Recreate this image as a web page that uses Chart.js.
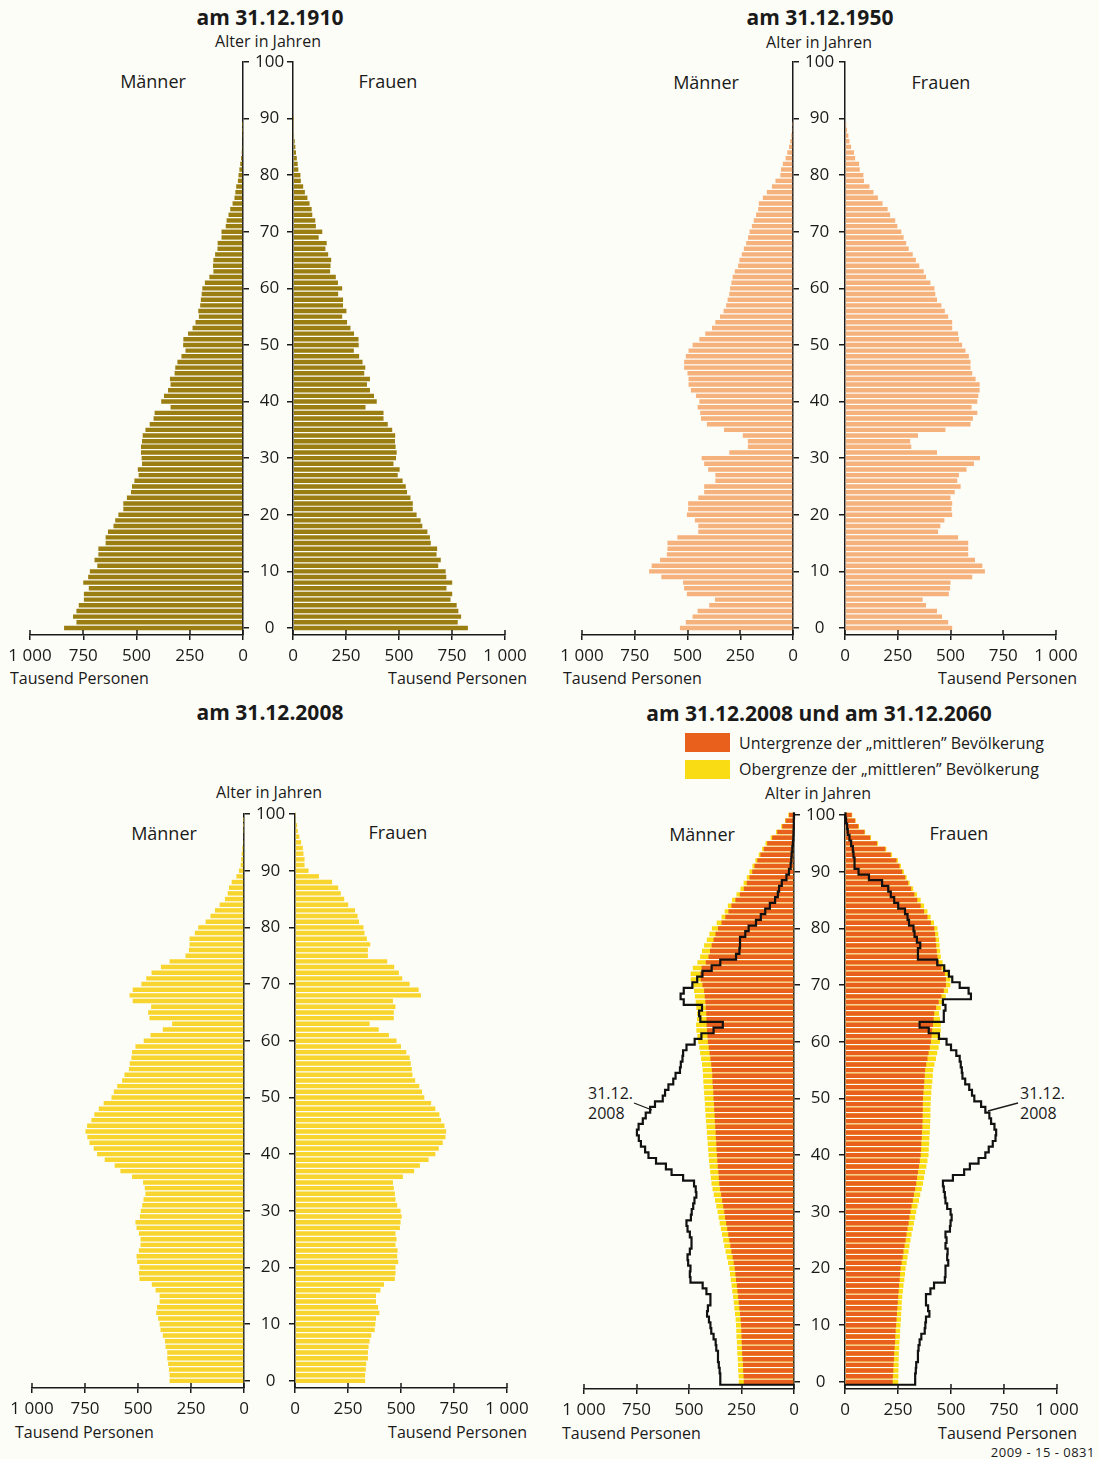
<!DOCTYPE html>
<html lang="de">
<head>
<meta charset="utf-8">
<title>Bevölkerungspyramiden 1910, 1950, 2008, 2060</title>
<script src="https://cdn.jsdelivr.net/npm/chart.js@4.4.1/dist/chart.umd.min.js"></script>
<style>
  body { margin: 0; background: #fdfdf8; }
  #page { position: relative; width: 1099px; height: 1459px; overflow: hidden;
          font-family: 'Open Sans', sans-serif; color: #1a1a1a; }
  canvas { position: absolute; }
  .t { position: absolute; white-space: nowrap; line-height: 1; }
  .m { transform: translate(-50%, -50%); }
  .l { transform: translate(0, -50%); }
  .r { transform: translate(-100%, -50%); }
  .title { font-weight: 700; font-size: 21px; }
  .sm { font-size: 16px; }
  .sex { font-size: 18px; }
  .key { position: absolute; width: 45px; height: 19px; }
  .foot { font-size: 13px; letter-spacing: 0.5px; }
</style>
</head>
<body>
<div id="page">
  <!-- 1910 -->
  <div class="t m title" style="left:270px;top:17px">am 31.12.1910</div>
  <div class="t m sm" style="left:268px;top:41px">Alter in Jahren</div>
  <div class="t m sex" style="left:153px;top:81px">Männer</div>
  <div class="t m sex" style="left:388px;top:81px">Frauen</div>
  <div class="t l sm" style="left:10px;top:678px">Tausend Personen</div>
  <div class="t r sm" style="left:527px;top:678px">Tausend Personen</div>

  <!-- 1950 -->
  <div class="t m title" style="left:820px;top:17px">am 31.12.1950</div>
  <div class="t m sm" style="left:819px;top:42px">Alter in Jahren</div>
  <div class="t m sex" style="left:706px;top:82px">Männer</div>
  <div class="t m sex" style="left:941px;top:82px">Frauen</div>
  <div class="t l sm" style="left:563px;top:678px">Tausend Personen</div>
  <div class="t r sm" style="left:1077px;top:678px">Tausend Personen</div>

  <!-- 2008 -->
  <div class="t m title" style="left:270px;top:712px">am 31.12.2008</div>
  <div class="t m sm" style="left:269px;top:792px">Alter in Jahren</div>
  <div class="t m sex" style="left:164px;top:833px">Männer</div>
  <div class="t m sex" style="left:398px;top:832px">Frauen</div>
  <div class="t l sm" style="left:15px;top:1432px">Tausend Personen</div>
  <div class="t r sm" style="left:527px;top:1432px">Tausend Personen</div>

  <!-- 2008 / 2060 -->
  <div class="t m title" style="left:819px;top:713px">am 31.12.2008 und am 31.12.2060</div>
  <div class="key" style="left:685px;top:733px;background:#e8601c"></div>
  <div class="key" style="left:685px;top:760px;background:#f9dc14"></div>
  <div class="t l sm" style="left:739px;top:743px">Untergrenze der „mittleren” Bevölkerung</div>
  <div class="t l sm" style="left:739px;top:769px">Obergrenze der „mittleren” Bevölkerung</div>
  <div class="t m sm" style="left:818px;top:793px">Alter in Jahren</div>
  <div class="t m sex" style="left:702px;top:834px">Männer</div>
  <div class="t m sex" style="left:959px;top:833px">Frauen</div>
  <div class="t l sm" style="left:588px;top:1093px">31.12.</div>
  <div class="t l sm" style="left:588px;top:1113px">2008</div>
  <div class="t l sm" style="left:1020px;top:1093px">31.12.</div>
  <div class="t l sm" style="left:1020px;top:1113px">2008</div>
  <div class="t l sm" style="left:562px;top:1433px">Tausend Personen</div>
  <div class="t r sm" style="left:1077px;top:1433px">Tausend Personen</div>
  <div class="t r foot" style="left:1095px;top:1452px">2009 - 15 - 0831</div>

  <svg width="1099" height="1459" style="position:absolute;left:0;top:0;pointer-events:none">
    <line x1="634" y1="1103" x2="652" y2="1110" stroke="#1a1a1a" stroke-width="1.3"/>
    <line x1="1018" y1="1103" x2="988" y2="1111" stroke="#1a1a1a" stroke-width="1.3"/>
  </svg>
</div>

<script>
const ages = [0,1,2,3,4,5,6,7,8,9,10,11,12,13,14,15,16,17,18,19,20,21,22,23,24,25,26,27,28,29,30,
  31,32,33,34,35,36,37,38,39,40,41,42,43,44,45,46,47,48,49,50,51,52,53,54,55,56,57,58,59,60,
  61,62,63,64,65,66,67,68,69,70,71,72,73,74,75,76,77,78,79,80,81,82,83,84,85,86,87,88,89,90,
  91,92,93,94,95,96,97,98,99,100];
const ageTicks = [0, 10, 20, 30, 40, 50, 60, 70, 80, 90, 100];
const personTicks = [0, 250, 500, 750, 1000];

// Tausend Personen je Altersjahr (0 ... 100)
const maenner1910 = [840,782,798,782,771,747,747,724,750,727,719,684,697,679,679,645,645,634,608,600,
  585,562,562,545,526,521,510,490,494,474,476,479,479,474,471,458,438,420,415,340,
  384,371,352,340,343,321,318,308,289,270,281,280,258,237,223,207,210,201,198,194,
  191,179,158,139,141,139,131,120,119,101,101,81,77,68,60,49,40,36,32,24,
  21,17,13,9,6,5,3,2,1,1,0,0,0,0,0,0,0,0,0,0,0];
const frauen1910 = [825,777,793,780,772,743,751,724,751,723,720,685,697,677,680,650,646,634,610,602,
  583,565,565,554,538,532,517,494,503,474,486,489,484,481,482,468,447,427,427,342,
  395,382,363,349,363,336,341,328,312,287,310,309,288,271,255,232,252,236,236,213,
  232,212,202,175,177,180,166,153,159,121,138,108,105,91,88,78,68,56,48,37,
  35,25,22,18,14,11,8,5,3,2,1,0,0,0,0,0,0,0,0,0,0];

const maenner1950 = [536,508,476,452,397,370,503,516,521,624,682,670,630,598,595,595,548,449,449,465,
  503,497,497,449,421,421,368,368,402,421,433,302,214,214,238,327,408,436,440,452,
  444,460,484,495,495,500,516,516,508,495,476,444,416,384,368,346,329,317,310,302,
  298,292,286,276,260,254,243,233,222,213,206,195,186,175,165,162,143,124,100,83,
  60,57,48,35,27,19,13,8,5,2,0,0,0,0,0,0,0,0,0,0,0];
const frauen1950 = [508,489,460,436,384,368,492,498,500,603,663,651,616,584,584,584,536,441,452,471,
  508,505,508,500,520,548,532,540,576,611,640,436,314,309,346,476,595,606,627,600,
  627,632,638,638,619,603,595,595,587,571,555,540,536,508,508,489,473,457,436,428,
  424,405,384,373,352,336,321,302,290,278,267,248,238,214,202,178,156,135,116,90,
  87,70,67,48,43,29,21,16,10,6,3,0,0,0,0,0,0,0,0,0,0];

const maenner2008 = [351,351,354,358,362,362,370,373,383,394,398,405,414,410,398,398,417,435,493,496,
  493,504,507,496,488,488,496,507,512,491,487,480,474,465,468,476,528,583,610,657,
  693,709,729,739,748,740,720,706,685,662,625,614,598,575,564,543,539,531,528,512,
  473,441,383,339,446,452,438,525,540,525,484,461,436,392,351,276,260,257,257,232,
  216,181,158,137,115,90,77,71,58,36,24,16,13,11,8,5,3,2,1,1,0];
const frauen2008 = [331,331,334,336,344,344,347,352,360,376,379,382,398,392,382,382,403,420,471,474,
  474,487,482,484,474,479,474,495,498,503,498,482,474,471,466,462,509,562,589,630,
  662,678,697,710,713,705,689,681,662,642,610,599,586,567,554,551,546,541,525,500,
  479,443,395,352,466,466,474,462,594,583,541,506,490,468,435,344,344,355,339,328,
  323,302,295,283,251,232,216,204,175,113,64,45,45,40,37,29,21,13,10,5,2];

// 2060: Untergrenze und Obergrenze der "mittleren" Bevölkerung
const maenner2060unter = [239,240,242,243,245,247,248,249,250,251,252,254,257,260,263,266,269,272,276,279,
  282,287,292,298,303,308,313,318,323,328,332,337,342,347,352,356,358,360,363,365,
  367,369,370,372,373,375,377,378,380,381,383,384,386,388,389,391,394,398,402,406,
  410,412,414,416,417,418,420,422,425,428,436,444,446,440,420,407,400,392,383,374,
  362,345,327,312,298,279,258,239,225,212,199,188,175,160,144,128,104,80,56,40,24];
const maenner2060ober = [263,264,266,267,268,270,271,272,274,275,276,278,281,284,287,290,294,297,301,305,
  308,314,320,326,332,337,343,348,354,359,364,370,376,382,388,393,396,399,402,405,
  407,409,411,413,415,417,419,421,423,424,426,428,430,432,433,435,438,442,447,451,
  456,460,465,466,462,462,465,468,472,476,485,492,492,482,460,447,438,428,415,403,
  391,368,345,330,315,295,274,255,240,225,212,198,184,168,152,136,111,86,61,43,27];
const frauen2060unter = [225,226,228,229,231,232,234,236,237,239,241,243,245,247,249,251,253,255,258,260,
  262,267,272,276,281,286,290,295,300,304,309,314,320,325,331,336,340,344,349,353,
  357,359,360,362,363,365,366,366,367,367,368,370,372,374,376,378,383,389,394,400,
  405,408,411,415,418,421,430,442,455,466,476,476,471,455,442,436,433,430,428,425,
  421,405,389,373,357,341,327,312,298,284,270,257,243,216,190,151,119,92,63,48,32];
const frauen2060ober = [251,252,252,253,253,254,256,257,259,260,262,264,265,267,268,270,273,276,280,283,
  286,291,295,300,304,309,314,320,325,331,336,342,349,355,362,368,373,378,384,389,
  394,395,397,398,400,401,402,403,403,404,405,407,409,412,414,416,422,429,435,442,
  448,450,452,452,448,444,452,462,475,486,497,497,492,474,460,452,449,446,444,440,
  436,420,404,389,373,357,340,322,305,291,278,264,250,222,195,156,123,95,66,50,34];

const ink = '#1a1a1a';
const farbe1910 = '#9a7e12';
const farbe1950 = '#f6b27c';
const farbe2008 = '#f8d52e';
const farbeUnter = '#e8601c';
const farbeOber = '#f9dc14';

Chart.defaults.font.family = "'Open Sans', sans-serif";
Chart.defaults.font.size = 17;
Chart.defaults.color = ink;

// kurze Striche nach oben an der Personen-Achse
Chart.register({
  id: 'tickUp',
  afterDraw(chart) {
    const s = chart.scales.x;
    const ctx = chart.ctx;
    ctx.save();
    ctx.strokeStyle = ink;
    ctx.lineWidth = 1.5;
    s.ticks.forEach(t => {
      const px = Math.round(s.getPixelForValue(t.value));
      ctx.beginPath();
      ctx.moveTo(px, s.top - 5);
      ctx.lineTo(px, s.top);
      ctx.stroke();
    });
    ctx.restore();
  }
});

function punkte(werte) {
  return werte.map((v, i) => ({ x: v, y: ages[i] }));
}

function balken(werte, farbe, extra) {
  return Object.assign({
    data: punkte(werte),
    backgroundColor: farbe,
    barPercentage: 0.78,
    categoryPercentage: 1,
    clip: false
  }, extra || {});
}

// Umriss 31.12.2008 als Treppenlinie
function umriss(werte) {
  const pts = [{ x: 0, y: ages[0] - 0.5 }];
  werte.forEach((v, i) => pts.push({ x: v, y: ages[i] - 0.5 }));
  pts.push({ x: werte[werte.length - 1], y: ages[ages.length - 1] + 0.5 });
  pts.push({ x: 0, y: ages[ages.length - 1] + 0.5 });
  return {
    type: 'line',
    data: pts,
    borderColor: '#111',
    borderWidth: 2.2,
    pointRadius: 0,
    stepped: 'after',
    fill: false,
    clip: false,
    order: -1
  };
}

function fmt(v) {
  return v === 1000 ? '1 000' : String(v);
}

function haelfte(g, links, datasets) {
  const x0 = links ? g.l1000 : g.r0;
  const x1 = links ? g.l0 : g.r1000;
  const padL = links ? 40 : 20;
  const padR = links ? 0 : 40;
  const padT = 20;
  const axisW = links ? 50 : 0;
  const axisH = 40;

  const cv = document.createElement('canvas');
  cv.width = padL + (x1 - x0) + axisW + padR;
  cv.height = padT + (g.bot - g.top) + axisH;
  cv.style.left = (x0 - padL) + 'px';
  cv.style.top = (g.top - padT) + 'px';
  document.getElementById('page').appendChild(cv);

  new Chart(cv, {
    type: 'bar',
    data: { datasets: datasets },
    options: {
      responsive: false,
      animation: false,
      indexAxis: 'y',
      layout: { padding: { left: padL, right: padR, top: padT, bottom: 0 } },
      plugins: { legend: { display: false }, tooltip: { enabled: false } },
      scales: {
        x: {
          type: 'linear',
          min: 0,
          max: 1000,
          reverse: links,
          afterBuildTicks: s => { s.ticks = personTicks.map(v => ({ value: v })); },
          afterFit: s => { s.height = axisH; },
          ticks: { callback: v => fmt(v), padding: 6, maxRotation: 0, autoSkip: false },
          grid: { drawOnChartArea: false, offset: false, tickLength: 5, color: ink, lineWidth: 1.5 },
          border: { display: true, color: ink, width: 1.5 }
        },
        y: {
          type: 'linear',
          position: links ? 'right' : 'left',
          min: -1.25,
          max: 100,
          offset: false,
          z: 1,
          afterBuildTicks: s => { s.ticks = ageTicks.map(v => ({ value: v })); },
          afterFit: s => { s.width = axisW; },
          ticks: { display: links, padding: 6, crossAlign: 'center', autoSkip: false },
          grid: { drawOnChartArea: false, offset: false, tickLength: 6, color: ink, lineWidth: 1.5 },
          border: { display: true, color: ink, width: 1.5 }
        }
      }
    }
  });
}

const gA = { l1000: 30, l0: 243, r0: 293, r1000: 505, top: 62, bot: 635 };
const gB = { l1000: 582, l0: 793, r0: 845, r1000: 1056, top: 62, bot: 635 };
const gC = { l1000: 32, l0: 244, r0: 295, r1000: 507, top: 814, bot: 1388 };
const gD = { l1000: 584, l0: 794, r0: 845, r1000: 1057, top: 815, bot: 1389 };

haelfte(gA, true, [balken(maenner1910, farbe1910)]);
haelfte(gA, false, [balken(frauen1910, farbe1910)]);
haelfte(gB, true, [balken(maenner1950, farbe1950)]);
haelfte(gB, false, [balken(frauen1950, farbe1950)]);
haelfte(gC, true, [balken(maenner2008, farbe2008)]);
haelfte(gC, false, [balken(frauen2008, farbe2008)]);
haelfte(gD, true, [
  balken(maenner2060unter, farbeUnter, { grouped: false, order: 0 }),
  balken(maenner2060ober, farbeOber, { grouped: false, order: 1 }),
  umriss(maenner2008)
]);
haelfte(gD, false, [
  balken(frauen2060unter, farbeUnter, { grouped: false, order: 0 }),
  balken(frauen2060ober, farbeOber, { grouped: false, order: 1 }),
  umriss(frauen2008)
]);
</script>
</body>
</html>
